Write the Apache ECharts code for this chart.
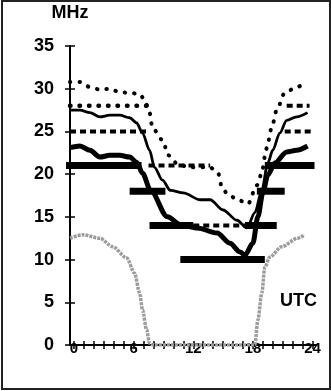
<!DOCTYPE html>
<html>
<head>
<meta charset="utf-8">
<script src="https://cdn.jsdelivr.net/npm/echarts@6/dist/echarts.min.js"></script>
<style>
  html, body { margin: 0; padding: 0; background: #fff; }
  #wrap { position: relative; width: 331px; height: 391px; }
  #chart { width: 331px; height: 391px; }
  .frame {
    position: absolute; left: 1px; top: 0; width: 326px; height: 386px;
    border: 2px solid #222; pointer-events: none;
  }
</style>
</head>
<body>
<div id="wrap">
  <div id="chart"></div>
  <div class="frame"></div>
</div>
<script>
// hours UTC / MHz
const hourTicks = [0, 1, 2, 3, 4, 5, 6, 7, 8, 9, 10, 11, 12, 13, 14, 15, 16, 17, 18, 19, 20, 21, 22, 23, 24]
const hourLabels = [0, 6, 12, 18, 24]

const upperDecile = [[-0.4, 30.8], [0.6, 30.8], [1.6, 30.2], [2.6, 29.9], [3.6, 30.0], [4.6, 29.6], [5.6, 29.5], [6.6, 29.4], [7.1, 28.7], [7.6, 27.2], [7.9, 25.4], [8.9, 24.0], [9.5, 22.2], [10.5, 21.1], [11.7, 20.8], [13.7, 20.8], [14.5, 20.1], [14.9, 18.4], [15.5, 17.6], [16.5, 17.0], [17.5, 16.5], [18.4, 18.7], [18.9, 20.1], [19.2, 22.0], [19.5, 23.7], [19.9, 25.5], [20.4, 27.5], [21.2, 29.5], [22.4, 30.2], [23.5, 30.8]]

const median = [[-0.4, 27.5], [0.6, 27.5], [1.6, 27.2], [2.6, 26.7], [3.6, 26.9], [4.6, 26.9], [5.6, 26.6], [6.3, 26.0], [6.9, 24.8], [7.6, 22.8], [8.1, 20.8], [8.9, 19.3], [9.7, 18.1], [11.0, 17.8], [12.7, 17.0], [13.7, 17.0], [15.0, 15.8], [16.4, 14.6], [17.4, 13.7], [18.2, 15.5], [18.9, 18.1], [19.5, 21.3], [20.0, 22.8], [20.7, 24.8], [21.4, 26.3], [22.4, 26.7], [23.5, 27.2]]

const lowerDecile = [[-0.4, 23.1], [0.6, 23.3], [1.6, 22.8], [2.6, 22.0], [3.6, 22.2], [4.6, 22.2], [5.6, 22.0], [6.3, 21.4], [6.9, 20.1], [7.7, 18.1], [9.4, 15.0], [10.7, 14.1], [12.4, 13.7], [14.4, 13.1], [15.7, 11.9], [16.7, 10.9], [17.2, 10.5], [18.0, 11.9], [18.5, 15.0], [19.0, 17.8], [19.5, 19.9], [20.2, 21.3], [21.4, 22.6], [22.4, 22.8], [23.5, 23.3]]

const luf = [[-0.4, 12.5], [0.9, 12.9], [2.6, 12.5], [3.9, 11.5], [5.3, 10.2], [6.1, 8.4], [6.6, 6.1], [6.9, 4.1], [7.3, 1.8], [7.6, 0.2], [8.0, 0], [18.2, 0], [18.5, 2.9], [18.9, 6.1], [19.2, 9.1], [19.7, 10.3], [20.9, 11.5], [22.5, 12.5], [23.2, 12.9]]

// band segments: [MHz, from hour, to hour]
const solidBands = [[21, -1.1, 6.8], [21, 19.2, 24.2], [18, 5.6, 9.2], [18, 18.4, 21.2], [14, 7.6, 12.0], [14, 17.2, 20.4], [10, 10.7, 19.2]]
const dashedBands = [[25, -0.4, 7.6], [25, 21.2, 23.9], [28, 21.4, 23.7], [21, 7.5, 13.7], [14, 12.0, 17.2]]
const dottedBands = [[28, -0.4, 7.3]]

const font = 'Liberation Sans, Arial, sans-serif'
const black = '#000'

function bandSeries(list, lineStyle, clip) {
  return list.map(([f, from, to]) => ({
    type: 'line',
    data: [[from, f], [to, f]],
    symbol: 'none',
    clip: clip,
    silent: true,
    z: 3,
    lineStyle: lineStyle
  }))
}

function curve(data, lineStyle, z) {
  return {
    type: 'line',
    data: data,
    symbol: 'none',
    smooth: 0.3,
    smoothMonotone: 'x',
    silent: true,
    z: z,
    lineStyle: lineStyle
  }
}

const chart = echarts.init(document.getElementById('chart'))

chart.setOption({
  animation: false,
  backgroundColor: '#fff',
  grid: { left: 70, right: 14.5, top: 46, bottom: 46 },
  xAxis: [
    {
      type: 'value', min: -0.4, max: 24.4, position: 'bottom',
      axisLine: { onZero: false, lineStyle: { color: black, width: 2 } },
      axisTick: { show: false },
      axisLabel: { customValues: hourLabels, margin: -4, color: black, fontSize: 15, fontWeight: 'bold', fontFamily: font },
      splitLine: { show: false }
    },
    {
      // crossing ticks: an unlabelled twin axis moved up by half a tick
      type: 'value', min: -0.4, max: 24.4, position: 'bottom', offset: -4,
      axisLine: { show: false },
      axisTick: { show: true, customValues: hourTicks, length: 8, lineStyle: { color: black, width: 1.5 } },
      axisLabel: { show: false },
      splitLine: { show: false }
    }
  ],
  yAxis: [
    {
      type: 'value', min: 0, max: 35, interval: 5, position: 'left',
      axisLine: { show: true, onZero: false, lineStyle: { color: black, width: 2 } },
      axisTick: { show: false },
      axisLabel: { margin: 16, color: black, fontSize: 18, fontWeight: 'bold', fontFamily: font },
      splitLine: { show: false }
    },
    {
      type: 'value', min: 0, max: 35, interval: 5, position: 'left', offset: -5,
      axisLine: { show: false },
      axisTick: { show: true, length: 10, lineStyle: { color: black, width: 1.5 } },
      axisLabel: { show: false },
      splitLine: { show: false }
    }
  ],
  graphic: [
    {
      type: 'text', x: 70, y: 4,
      style: { text: 'MHz', fill: black, font: 'bold 18px ' + font, align: 'center', verticalAlign: 'top' }
    },
    {
      type: 'text', x: 280, y: 292,
      style: { text: 'UTC', fill: black, font: 'bold 18px ' + font }
    }
  ],
  series: [
    curve(luf, { color: '#9c9c9c', width: 3.5, type: [3, 1] }, 1),
    ...bandSeries(solidBands, { color: black, width: 7 }, false),
    ...bandSeries(dashedBands, { color: black, width: 4, type: [6, 4] }, true),
    ...bandSeries(dottedBands, { color: black, width: 4.5, type: [0.5, 9], cap: 'round' }, true),
    curve(upperDecile, { color: black, width: 4, type: [0.5, 9], cap: 'round' }, 4),
    curve(median, { color: black, width: 2.8 }, 4),
    curve(lowerDecile, { color: black, width: 5 }, 4)
  ]
})
</script>
</body>
</html>
